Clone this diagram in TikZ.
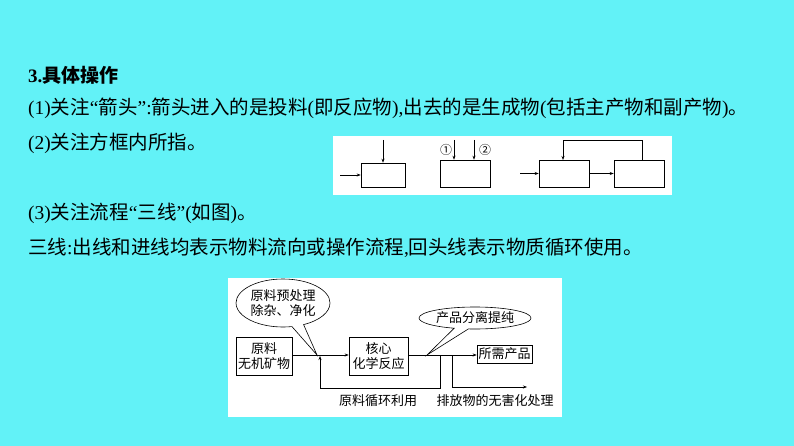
\documentclass[tikz,border=0pt]{standalone}
\usepackage{fontspec}
\setmainfont{Liberation Serif}
\newfontfamily\cjk{Noto Sans CJK SC}
\usetikzlibrary{shapes.callouts,arrows.meta}
\definecolor{bgc}{RGB}{98,242,247}
\begin{document}
\begin{tikzpicture}[x=1pt,y=-1pt,
  txt/.style={anchor=west,inner sep=0pt,font=\fontsize{19.5}{21}\selectfont},
  bx/.style={draw,line width=0.6pt,inner sep=0pt},
  ar/.style={-{Stealth[length=4pt,width=3pt]},line width=0.6pt},
  ln/.style={line width=0.6pt},
  sm/.style={font=\cjk\fontsize{13}{15}\selectfont}]
\fill[bgc] (0,0) rectangle (794,446);
\useasboundingbox (0,0) rectangle (794,446);
\node[txt,font=\bfseries\fontsize{19}{21}\selectfont] (t1) at (28,75) {3.{\cjk 具体操作}};
\node[txt] (t2) at (28,108) {(1){\cjk 关注}“{\cjk 箭头}”:{\cjk 箭头进入的是投料}({\cjk 即反应物}),{\cjk 出去的是生成物}({\cjk 包括主产物和副产物}){\cjk 。}};
\node[txt] (t3) at (28,143) {(2){\cjk 关注方框内所指。}};
\node[txt] (t4) at (28,213) {(3){\cjk 关注流程}“{\cjk 三线}”({\cjk 如图}){\cjk 。}};
\node[txt] (t5) at (28,248) {{\cjk 三线}:{\cjk 出线和进线均表示物料流向或操作流程}{,}{\cjk 回头线表示物质循环使用。}};
% top diagram
\fill[white] (333,136) rectangle (672,195);
\node[bx,minimum width=44pt,minimum height=24pt] (b1) at (383,175) {};
\coordinate (a1) at (340,175); \coordinate (a2) at (383,140);
\draw[ar] (a1) -- (b1.west); \draw[ar] (a2) -- (b1.north);
\node[bx,minimum width=50pt,minimum height=27pt] (b2) at (465,173.5) {};
\coordinate (c1) at (454,140); \coordinate (c2) at (474,140);
\draw[ar] (c1) -- (c1|-b2.north); \draw[ar] (c2) -- (c2|-b2.north);
\node[font=\cjk\fontsize{12}{12}\selectfont,inner sep=0pt] (n1) at (446,150) {①};
\node[font=\cjk\fontsize{12}{12}\selectfont,inner sep=0pt] (n2) at (485,150) {②};
\node[bx,minimum width=50pt,minimum height=27pt] (b3) at (564,173.5) {};
\node[bx,minimum width=50pt,minimum height=27pt] (b4) at (639,173.5) {};
\coordinate (d1) at (520,173.5);
\draw[ar] (d1) -- (b3.west); \draw[ar] (b3) -- (b4);
\draw[ar] (642,160) -- (642,140) -- (563,140) -- (563,160);
% bottom diagram
\fill[white] (228,278) rectangle (562,417);
\node[bx,minimum width=56pt,minimum height=38pt,align=center,sm] (r) at (264,356) {原料\\无机矿物};
\node[bx,minimum width=59pt,minimum height=38pt,align=center,sm] (k) at (378.5,356) {核心\\化学反应};
\node[bx,minimum width=55pt,minimum height=18pt,sm] (p) at (504.5,354) {所需产品};
\coordinate (j1) at (317,355); \coordinate (j2) at (427,355);
\node[ellipse callout,draw,fill=white,line width=0.6pt,minimum width=94pt,minimum height=48pt,inner sep=0pt,align=center,sm,callout absolute pointer={(j1)}] (e1) at (283,303) {原料预处理\\除杂、净化};
\node[ellipse callout,draw,fill=white,line width=0.6pt,minimum width=112pt,minimum height=22pt,inner sep=0pt,sm,callout absolute pointer={(j2)}] (e2) at (475,318) {产品分离提纯};
\draw[ln] (r.east|-j1) -- (j1);
\draw[ar] (j1) -- (k.west|-j1);
\draw[ar] (k.east|-j1) -- (p.west|-j1);
\coordinate (q1) at (440,355); \coordinate (q2) at (452,355);
\draw[ar] (q1) -- (440,388) -- (320,388) -- (320,356);
\coordinate (q3) at (527,387);
\draw[ar] (q2) -- (452,387) -- (q3);
\node[sm] (l1) at (378,401) {原料循环利用};
\node[sm] (l2) at (495,401) {排放物的无害化处理};
\end{tikzpicture}
\end{document}
